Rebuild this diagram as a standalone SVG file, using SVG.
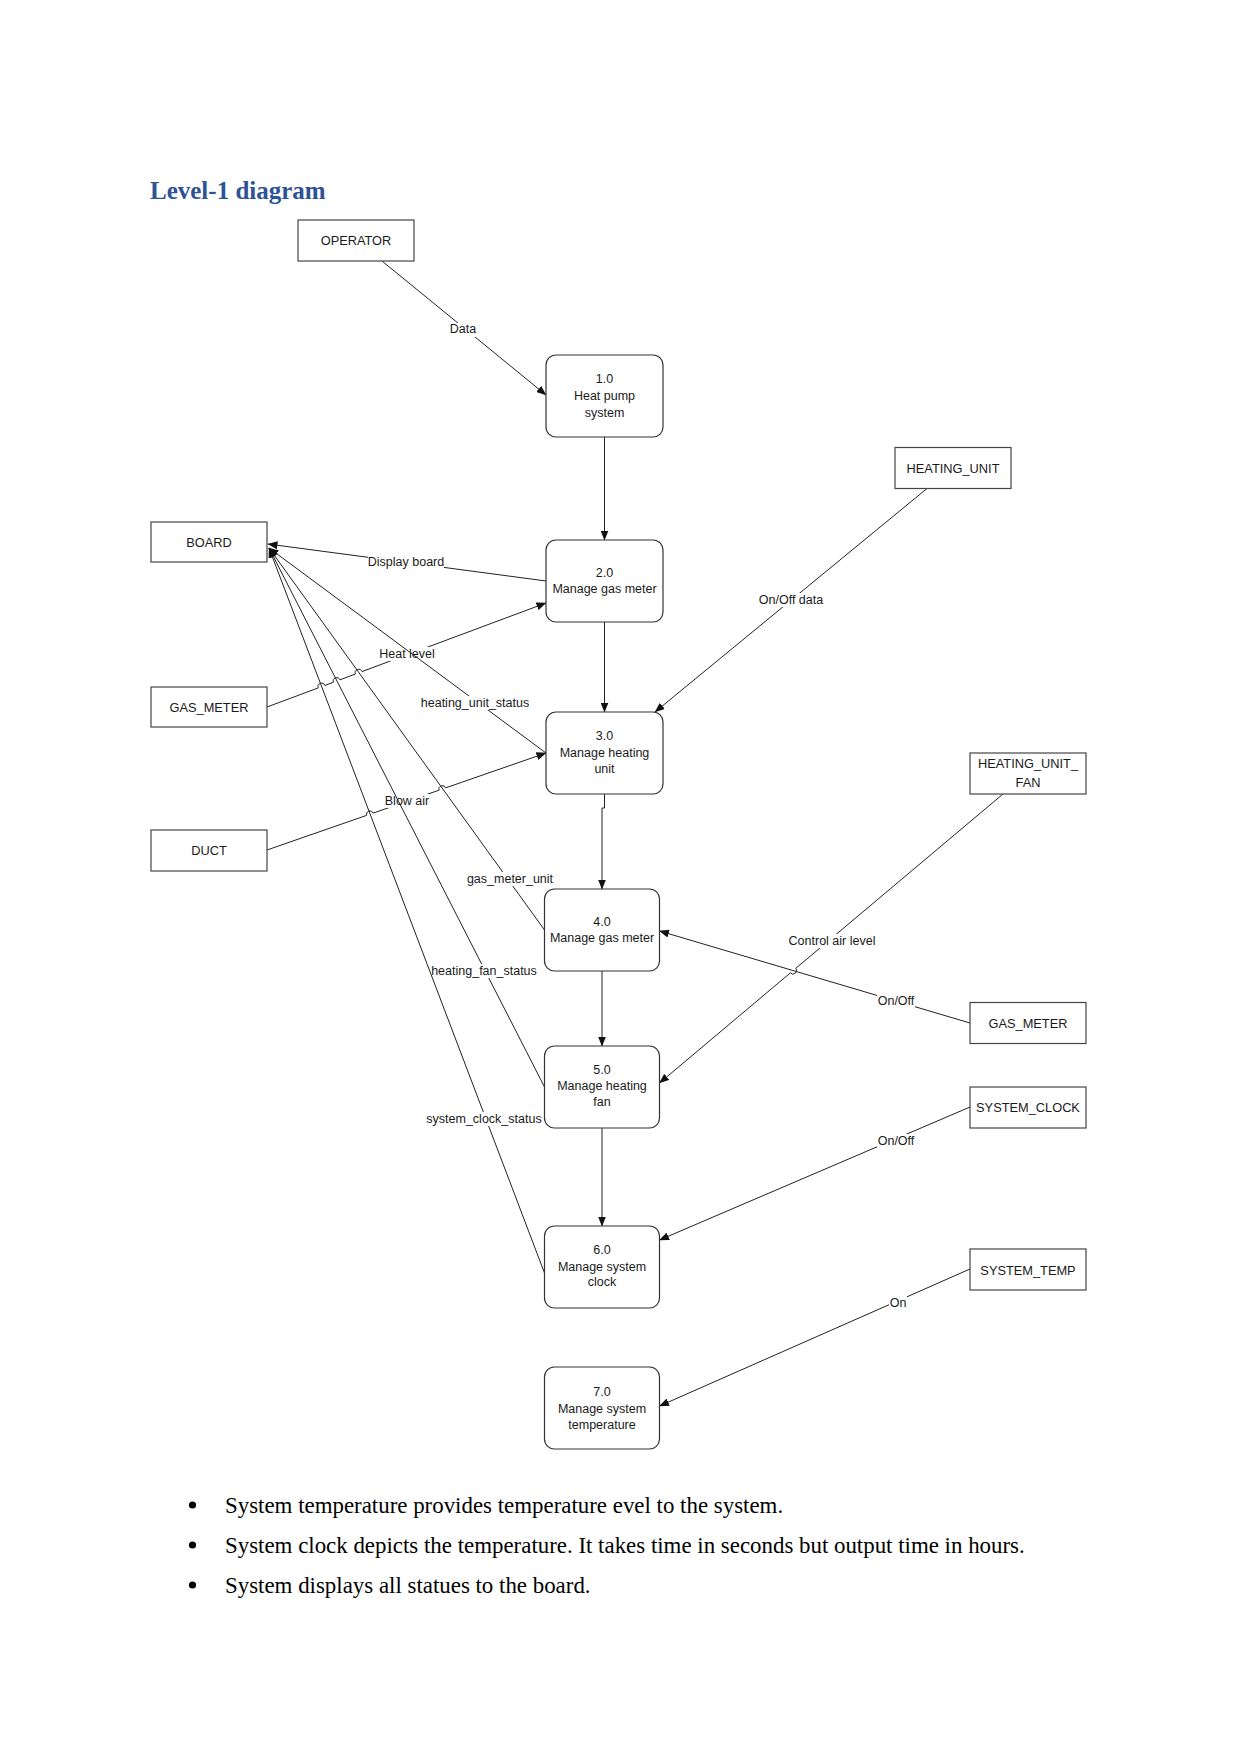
<svg xmlns="http://www.w3.org/2000/svg" width="1241" height="1754" viewBox="0 0 1241 1754">
<defs>
<marker id="arr" markerUnits="userSpaceOnUse" markerWidth="10" markerHeight="8" refX="9.5" refY="4" orient="auto">
<path d="M0,0 L10,4 L0,8 z" fill="#111"/>
</marker>
<style>
.ent{fill:#fff;stroke:#444;stroke-width:1.2}
.proc{fill:#fff;stroke:#333;stroke-width:1.2}
.t{font-family:"Liberation Sans",Arial,sans-serif;font-size:12.5px;fill:#1a1a1a;text-anchor:middle}
.te{font-family:"Liberation Sans",Arial,sans-serif;font-size:12.8px;fill:#1a1a1a;text-anchor:middle}
.ln{fill:none;stroke:#222;stroke-width:1}
.lbg{fill:#fff}
.doc{font-family:"Liberation Serif","Times New Roman",serif;font-size:22.9px;fill:#000}
</style>
</defs>
<rect width="1241" height="1754" fill="#fff"/>
<text x="150" y="199" font-family="Liberation Serif,'Times New Roman',serif" font-weight="bold" font-size="25" fill="#2E5395">Level-1 diagram</text>

<g id="connectors">
<path class="ln" d="M382,261 L546,395" marker-end="url(#arr)"/>
<rect class="lbg" x="449" y="323" width="28" height="14"/>
<text class="t" x="463" y="333">Data</text>
<path class="ln" d="M604.5,437 L604.5,540" marker-end="url(#arr)"/>
<path class="ln" d="M604.5,622 L604.5,712" marker-end="url(#arr)"/>
<path class="ln" d="M604.5,794 L604.5,808 L602,808 L602,889" marker-end="url(#arr)"/>
<path class="ln" d="M602,971 L602,1046" marker-end="url(#arr)"/>
<path class="ln" d="M602,1128 L602,1226" marker-end="url(#arr)"/>

<path class="ln" d="M546,581 L268,544" marker-end="url(#arr)"/>
<rect class="lbg" x="368" y="555" width="76" height="14"/>
<text class="t" x="406" y="566">Display board</text>

<path class="ln" d="M267,707 L318.22,687.91 A3.5,3.5 0 0 1 324.78,685.46 L333.42,682.24 A3.5,3.5 0 0 1 339.98,679.80 L355.42,674.04 A3.5,3.5 0 0 1 361.98,671.59 L546,603" marker-end="url(#arr)"/>
<rect class="lbg" x="379" y="647" width="56" height="14"/>
<text class="t" x="407" y="658">Heat level</text>

<path class="ln" d="M267,850 L366.6,815.37 A3.5,3.5 0 0 1 373.2,813.08 L439.1,790.17 A3.5,3.5 0 0 1 445.7,787.87 L546,753" marker-end="url(#arr)"/>
<rect class="lbg" x="385" y="794" width="44" height="14"/>
<text class="t" x="407" y="805">Blow air</text>

<path class="ln" d="M546,753 L269,548" marker-end="url(#arr)"/>
<rect class="lbg" x="420" y="696" width="110" height="14"/>
<text class="t" x="475" y="707">heating_unit_status</text>

<path class="ln" d="M544.5,930 L269,548" marker-end="url(#arr)"/>
<rect class="lbg" x="466" y="872" width="88" height="14"/>
<text class="t" x="510" y="883">gas_meter_unit</text>

<path class="ln" d="M544.5,1087 L269,548" marker-end="url(#arr)"/>
<rect class="lbg" x="431" y="964" width="106" height="14"/>
<text class="t" x="484" y="975">heating_fan_status</text>

<path class="ln" d="M544.5,1273 L269,548" marker-end="url(#arr)"/>
<rect class="lbg" x="427" y="1112" width="115" height="14"/>
<text class="t" x="484" y="1123">system_clock_status</text>

<path class="ln" d="M927,488.5 L655,712" marker-end="url(#arr)"/>
<rect class="lbg" x="758" y="593" width="66" height="14"/>
<text class="t" x="791" y="604">On/Off data</text>

<path class="ln" d="M970,1023 L659.5,931" marker-end="url(#arr)"/>
<rect class="lbg" x="877" y="994" width="38" height="14"/>
<text class="t" x="896" y="1005">On/Off</text>

<path class="ln" d="M1003,794 L795.78,968.35 A3.5,3.5 0 0 1 790.42,972.85 L659.5,1083" marker-end="url(#arr)"/>
<rect class="lbg" x="788" y="934" width="88" height="14"/>
<text class="t" x="832" y="945">Control air level</text>

<path class="ln" d="M970,1107 L659.5,1240" marker-end="url(#arr)"/>
<rect class="lbg" x="877" y="1134" width="38" height="14"/>
<text class="t" x="896" y="1145">On/Off</text>

<path class="ln" d="M970,1269 L659.5,1406" marker-end="url(#arr)"/>
<rect class="lbg" x="889" y="1296" width="18" height="14"/>
<text class="t" x="898" y="1307">On</text>
</g>

<g id="operator"><rect class="ent" x="298" y="220" width="116" height="41"/><text class="te" x="356" y="245">OPERATOR</text></g>
<g id="heating_unit"><rect class="ent" x="895" y="447.5" width="116" height="41"/><text class="te" x="953" y="472.5">HEATING_UNIT</text></g>
<g id="board"><rect class="ent" x="151" y="522" width="116" height="40"/><text class="te" x="209" y="546.5">BOARD</text></g>
<g id="gas_meter_left"><rect class="ent" x="151" y="687" width="116" height="40"/><text class="te" x="209" y="711.5">GAS_METER</text></g>
<g id="duct"><rect class="ent" x="151" y="830" width="116" height="41"/><text class="te" x="209" y="855">DUCT</text></g>
<g id="heating_unit_fan"><rect class="ent" x="970" y="753" width="116" height="41"/><text class="te" x="1028" y="768">HEATING_UNIT_</text><text class="te" x="1028" y="787">FAN</text></g>
<g id="gas_meter_right"><rect class="ent" x="970" y="1002.5" width="116" height="41"/><text class="te" x="1028" y="1027.5">GAS_METER</text></g>
<g id="system_clock"><rect class="ent" x="970" y="1087" width="116" height="41"/><text class="te" x="1028" y="1112">SYSTEM_CLOCK</text></g>
<g id="system_temp"><rect class="ent" x="970" y="1249" width="116" height="41"/><text class="te" x="1028" y="1274.5">SYSTEM_TEMP</text></g>

<g id="p1"><rect class="proc" x="546" y="355" width="117" height="82" rx="10"/><text class="t" x="604.5" y="383">1.0</text><text class="t" x="604.5" y="400">Heat pump</text><text class="t" x="604.5" y="416.5">system</text></g>
<g id="p2"><rect class="proc" x="546" y="540" width="117" height="82" rx="10"/><text class="t" x="604.5" y="577">2.0</text><text class="t" x="604.5" y="593">Manage gas meter</text></g>
<g id="p3"><rect class="proc" x="546" y="712" width="117" height="82" rx="10"/><text class="t" x="604.5" y="740">3.0</text><text class="t" x="604.5" y="757">Manage heating</text><text class="t" x="604.5" y="773">unit</text></g>
<g id="p4"><rect class="proc" x="544.5" y="889" width="115" height="82" rx="10"/><text class="t" x="602" y="926">4.0</text><text class="t" x="602" y="942">Manage gas meter</text></g>
<g id="p5"><rect class="proc" x="544.5" y="1046" width="115" height="82" rx="10"/><text class="t" x="602" y="1074">5.0</text><text class="t" x="602" y="1090">Manage heating</text><text class="t" x="602" y="1106">fan</text></g>
<g id="p6"><rect class="proc" x="544.5" y="1226" width="115" height="82" rx="10"/><text class="t" x="602" y="1254">6.0</text><text class="t" x="602" y="1270.5">Manage system</text><text class="t" x="602" y="1286">clock</text></g>
<g id="p7"><rect class="proc" x="544.5" y="1367" width="115" height="82" rx="10"/><text class="t" x="602" y="1395.5">7.0</text><text class="t" x="602" y="1412.5">Manage system</text><text class="t" x="602" y="1428.5">temperature</text></g>

<g id="bullets">
<circle cx="192.5" cy="1505" r="3.6" fill="#000"/>
<text class="doc" x="225" y="1513">System temperature provides temperature evel to the system.</text>
<circle cx="192.5" cy="1545" r="3.6" fill="#000"/>
<text class="doc" x="225" y="1553">System clock depicts the temperature. It takes time in seconds but output time in hours.</text>
<circle cx="192.5" cy="1585" r="3.6" fill="#000"/>
<text class="doc" x="225" y="1593">System displays all statues to the board.</text>
</g>
</svg>
